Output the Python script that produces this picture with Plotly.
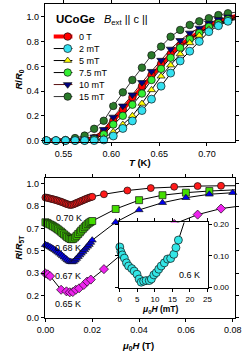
import plotly.graph_objects as go

W, H = 246, 358
def px(x): return x / W
def py(y): return 1 - y / H

FONT = "Arial, Liberation Sans, sans-serif"

# ---------------- top panel data: R/R0 vs T ----------------
T_K = [0.532, 0.542, 0.552, 0.562, 0.572, 0.582, 0.592, 0.602, 0.612, 0.622,
       0.632, 0.642, 0.652, 0.662, 0.672, 0.682, 0.692, 0.702, 0.712, 0.722, 0.742]
r_0T   = [0, 0, 0, 0, 0.005, 0.02, 0.07, 0.16, 0.25, 0.35, 0.44, 0.53, 0.62, 0.70, 0.77, 0.83, 0.88, 0.93, 0.96, 0.99, 1.03]
r_2mT  = [0, 0, 0, 0, 0, 0, 0.005, 0.037, 0.098, 0.159, 0.243, 0.335, 0.44, 0.546, 0.644, 0.723, 0.802, 0.881, 0.929, 0.965, 1.00]
r_5mT  = [0, 0, 0, 0, 0, 0.005, 0.02, 0.07, 0.13, 0.20, 0.30, 0.41, 0.52, 0.61, 0.70, 0.79, 0.85, 0.90, 0.94, 0.97, 1.01]
r_75mT = [0, 0, 0, 0, 0, 0.01, 0.05, 0.13, 0.20, 0.29, 0.38, 0.49, 0.58, 0.67, 0.75, 0.82, 0.87, 0.92, 0.95, 0.98, 1.02]
r_10mT = [0, 0, 0, 0.005, 0.01, 0.03, 0.09, 0.19, 0.28, 0.37, 0.47, 0.56, 0.65, 0.74, 0.81, 0.87, 0.91, 0.95, 0.98, 1.0, 1.03]
r_15mT = [0, 0, 0.005, 0.02, 0.04, 0.095, 0.16, 0.28, 0.39, 0.49, 0.59, 0.69, 0.76, 0.84, 0.895, 0.935, 0.965, 0.99, 1.015, 1.03, 1.05]

# ---------------- bottom panel data: R/R5T vs mu0H ----------------
H_dense = [0, 0.0007, 0.0013, 0.002, 0.0027, 0.0033, 0.004, 0.0047, 0.0053, 0.006,
           0.0067, 0.0073, 0.008, 0.0087, 0.0093, 0.01, 0.0107, 0.0113, 0.012, 0.0127,
           0.0133, 0.014, 0.0147, 0.0153, 0.016, 0.0167, 0.0173, 0.018, 0.0187, 0.0193, 0.02]
H_070 = H_dense + [0.025, 0.035, 0.045, 0.055, 0.065, 0.075, 0.09]
R_070 = [0.898, 0.896, 0.893, 0.890, 0.887, 0.884, 0.881, 0.878, 0.874, 0.870,
         0.866, 0.862, 0.857, 0.852, 0.848, 0.844, 0.842, 0.843, 0.847, 0.852,
         0.857, 0.862, 0.867, 0.872, 0.877, 0.882, 0.887, 0.892, 0.896, 0.900, 0.903,
         0.922, 0.950, 0.968, 0.978, 0.983, 0.985, 0.987]
H_068 = H_dense + [0.03, 0.04, 0.05, 0.06, 0.07, 0.09]
R_068 = [0.713, 0.708, 0.702, 0.696, 0.690, 0.683, 0.676, 0.668, 0.660, 0.651,
         0.642, 0.632, 0.622, 0.612, 0.602, 0.594, 0.588, 0.586, 0.590, 0.600,
         0.612, 0.625, 0.638, 0.651, 0.664, 0.676, 0.688, 0.699, 0.709, 0.716, 0.722,
         0.812, 0.878, 0.915, 0.934, 0.946, 0.962]
H_067 = H_dense + [0.03, 0.04, 0.05, 0.06, 0.07, 0.08, 0.09]
R_067 = [0.545, 0.540, 0.535, 0.529, 0.522, 0.515, 0.507, 0.499, 0.490, 0.481,
         0.472, 0.462, 0.452, 0.442, 0.432, 0.423, 0.418, 0.416, 0.420, 0.430,
         0.442, 0.455, 0.468, 0.481, 0.494, 0.507, 0.520, 0.533, 0.546, 0.562, 0.579,
         0.713, 0.805, 0.859, 0.896, 0.922, 0.934, 0.945]
H_065 = [0, 0.001, 0.002, 0.0067, 0.009, 0.0104, 0.0117, 0.013, 0.0144, 0.0164,
         0.0178, 0.0194, 0.025, 0.035, 0.045, 0.055, 0.065, 0.075, 0.09]
R_065 = [0.331, 0.324, 0.311, 0.209, 0.197, 0.190, 0.192, 0.209, 0.220, 0.245,
         0.270, 0.285, 0.363, 0.51, 0.61, 0.70, 0.77, 0.815, 0.85]
temp_labels = ["0.70 K", "0.68 K", "0.67 K", "0.65 K"]
ytick_text_bottom = ["0.0", "0.2", "0.3", "0.5", "0.7", "0.8", "1.0"]

# ---------------- inset data: 0.6 K, mu0H in mT ----------------
H_06 = [0, 0.3, 0.7, 1.3, 1.9, 2.5, 3.4, 4.1, 4.9, 5.5, 6.1, 6.8, 7.5, 8.4, 9.0,
        9.7, 10.4, 11.1, 11.8, 12.7, 13.6, 14.5, 15.4, 16.0, 16.7, 19.5]
R_06 = [0.128, 0.113, 0.103, 0.093, 0.078, 0.068, 0.060, 0.052, 0.042, 0.027, 0.017,
        0.020, 0.022, 0.022, 0.027, 0.040, 0.047, 0.058, 0.068, 0.078, 0.090, 0.092,
        0.105, 0.126, 0.150, 0.245]

fig = go.Figure()

def add_series(x, y, xr, xa, ya, mcolor, symbol, size, lcolor, lw, mline="#111111"):
    fig.add_trace(go.Scatter(x=x, y=y, mode="lines", xaxis=xa, yaxis=ya,
                             line=dict(color=lcolor, width=lw), showlegend=False,
                             hoverinfo="skip"))
    pts = [(a, b) for a, b in zip(x, y) if xr[0] <= a <= xr[1]]
    return dict(x=[p[0] for p in pts], y=[p[1] for p in pts], xaxis=xa, yaxis=ya,
                marker=dict(color=mcolor, symbol=symbol, size=size,
                            line=dict(color=mline, width=0.7)))

top_xr = [0.5305, 0.7297]
# (label, values, marker colour, symbol, size, line colour, line width)
top_series = [
    ("0 T", r_0T, "#ff0000", "circle", 7.5, "#ff0000", 4),
    ("15 mT", r_15mT, "#2a7a2a", "circle", 7.5, "#333333", 1),
    ("10 mT", r_10mT, "#000080", "triangle-down", 7.5, "#5a1010", 1),
    ("7.5 mT", r_75mT, "#33ee33", "circle", 7.5, "black", 1),
    ("5 mT", r_5mT, "#ffff00", "triangle-up", 7, "black", 1),
    ("2 mT", r_2mT, "#33e0f0", "circle", 8, "black", 1),
]
markers = []
for lab, ys, mc, sym, sz, lc, lw in top_series:
    markers.append(add_series(T_K, ys, top_xr, "x", "y", mc, sym, sz, lc, lw))

bot_xr = [-0.0002, 0.0811]
bot_series = [
    (H_070, R_070, "#ff1a1a", "circle", 7),
    (H_068, R_068, "#44dd00", "square", 7),
    (H_067, R_067, "#0000ee", "triangle-up", 7),
    (H_065, R_065, "#ee22ee", "diamond", 7),
]
for xs, ys, mc, sym, sz in bot_series:
    markers.append(add_series(xs, ys, bot_xr, "x2", "y2", mc, sym, sz, "black", 1))

for m in markers:
    fig.add_trace(go.Scatter(mode="markers", cliponaxis=False, showlegend=False,
                             hoverinfo="skip", **m))

m = add_series(H_06, R_06, [-0.2, 25.1], "x3", "y3", "#33e6e6", "circle", 8, "black", 1)
fig.add_trace(go.Scatter(mode="markers", cliponaxis=False, showlegend=False,
                         hoverinfo="skip", **m))

# ---------------- hand-made legend (own small axes) ----------------
legend_order = ["0 T", "2 mT", "5 mT", "7.5 mT", "10 mT", "15 mT"]
by_label = {s[0]: s for s in top_series}
for i, lab in enumerate(legend_order):
    _, ys, mc, sym, sz, lc, lw = by_label[lab]
    fig.add_trace(go.Scatter(x=[0, 1], y=[i, i], mode="lines", xaxis="x4", yaxis="y4",
                             line=dict(color=lc, width=lw), showlegend=False, hoverinfo="skip"))
    fig.add_trace(go.Scatter(x=[0.75], y=[i], mode="markers", xaxis="x4", yaxis="y4",
                             marker=dict(color=mc, symbol=sym, size=sz,
                                         line=dict(color="#111111", width=0.7)),
                             cliponaxis=False, showlegend=False, hoverinfo="skip"))
    fig.add_annotation(x=1.25, y=i, xref="x4", yref="y4", text=lab, showarrow=False,
                       xanchor="left", yanchor="middle",
                       font=dict(family=FONT, size=9, color="black"))

axis_common = dict(showline=True, linecolor="black", linewidth=1, mirror="ticks",
                   ticks="outside", ticklen=3, tickwidth=1, tickcolor="black",
                   showgrid=False, zeroline=False,
                   tickfont=dict(family=FONT, size=9, color="black"))
small_font = dict(family=FONT, size=8, color="black")

fig.update_layout(
    width=W, height=H, margin=dict(l=0, r=0, t=0, b=0),
    paper_bgcolor="white", plot_bgcolor="white", showlegend=False,
    xaxis=dict(domain=[px(39), px(240)], range=top_xr, anchor="y",
               tickvals=[0.55, 0.60, 0.65, 0.70], tickformat=".2f", **axis_common),
    yaxis=dict(domain=[py(142), py(1)], range=[-0.0103, 1.105], anchor="x",
               tickvals=[0, 0.2, 0.4, 0.6, 0.8, 1.0], tickformat=".1f", **axis_common),
    xaxis2=dict(domain=[px(39), px(240)], range=bot_xr, anchor="y2",
                tickvals=[0, 0.02, 0.04, 0.06, 0.08], tickformat=".2f", **axis_common),
    yaxis2=dict(domain=[py(322.5), py(178.5)], range=[-0.004, 1.047], anchor="x2",
                tickvals=[i / 6 for i in range(7)], ticktext=ytick_text_bottom,
                **axis_common),
    xaxis3=dict(domain=[px(117.3), px(211)], range=[-0.2, 25.1], anchor="y3",
                tickvals=[0, 5, 10, 15, 20, 25], **{**axis_common, "tickfont": small_font}),
    yaxis3=dict(domain=[py(291.7), py(224.5)], range=[-0.002, 0.2055], anchor="x3",
                side="right", tickvals=[0, 0.1, 0.2], tickformat=".2f",
                **{**axis_common, "tickfont": small_font}),
    xaxis4=dict(domain=[px(48), px(110)], range=[0, 3.1], visible=False, anchor="y4"),
    yaxis4=dict(domain=[py(102), py(28)], range=[5.513, -0.513], visible=False, anchor="x4"),
)

def ann(x, y, text, size=9, angle=0, xanchor="center"):
    fig.add_annotation(x=px(x), y=py(y), xref="paper", yref="paper", text=text,
                       showarrow=False, textangle=angle, xanchor=xanchor, yanchor="middle",
                       font=dict(family=FONT, size=size, color="black"))

ann(139.5, 163, "<b><i>T</i> (K)</b>", 9.5)
ann(12, 78, "<b><i>R</i>/<i>R</i><sub>0</sub></b>", 9.5, -90)
ann(12, 250, "<b><i>R</i>/<i>R</i><sub>5T</sub></b>", 9.5, -90)
ann(137, 351, "<b><i>μ</i><sub>0</sub><i>H</i> (T)</b>", 9.5)
ann(161, 314, "<b><i>μ</i><sub>0</sub><i>H</i> (mT)</b>", 8.5)
ann(49, 16, "<b>UCoGe</b>", 11.5, xanchor="left")
ann(99, 17, "<i>B</i><sub>ext</sub> || c ||", 11, xanchor="left")
ann(64, 219.5, temp_labels[0], 9)
ann(63, 251, temp_labels[1], 9)
ann(63, 279, temp_labels[2], 9)
ann(63, 307.5, temp_labels[3], 9)
ann(191.5, 278.5, "0.6 K", 9)

fig.write_html("out.html", config={"displayModeBar": False},
               post_script="document.body.style.margin='0';")
